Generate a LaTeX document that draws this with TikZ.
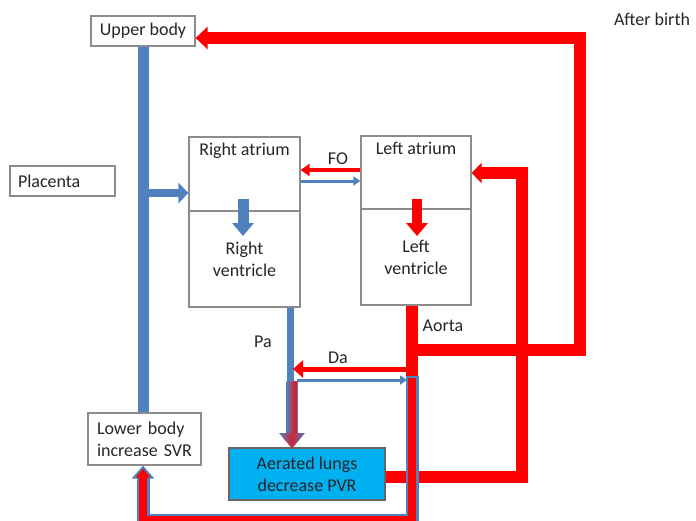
\documentclass[tikz,border=0pt]{standalone}
\usepackage{fontspec}
\setmainfont{Carlito}
\usetikzlibrary{arrows.meta}
\definecolor{oblue}{HTML}{4F81BD}
\definecolor{ored}{HTML}{FF0000}
\definecolor{lung}{HTML}{00B0F0}
\definecolor{boxgray}{HTML}{8C8C8C}
\definecolor{txt}{HTML}{262626}
\begin{document}
\begin{tikzpicture}[x=1pt,y=-1pt, font=\fontsize{18}{22}\selectfont, text=txt,
  box/.style={draw=boxgray, line width=1.2pt, fill=white, inner sep=0pt},
  lbl/.style={inner sep=0pt},
  bigred/.style={draw=ored, line width=12pt},
  bigtip/.style={-{Triangle[length=12pt,width=22pt]}},
]
\useasboundingbox (0,0) rectangle (696,520);
\clip (0,0) rectangle (696,520);

% coordinates
\coordinate (redY) at (0,38);
\coordinate (retY) at (0,350);
\coordinate (aoX) at (412,0);
\coordinate (lungY) at (0,477);
\coordinate (lungX) at (522,0);
\coordinate (laY) at (0,173);
\coordinate (topX) at (580,0);
\coordinate (aoEnd) at (412,376);
\coordinate (botR) at (412,520.5);
\coordinate (botL) at (143,520.5);
\coordinate (br) at (148,193);
\coordinate (foR) at (0,170);
\coordinate (foB) at (0,181);
\coordinate (paX) at (290,0);
\coordinate (paMid) at (290,440);
\coordinate (daL) at (293,369);
\coordinate (daR) at (406,369);
\coordinate (bl1) at (297,380);
\coordinate (bl2) at (407,380);
\coordinate (ra1) at (243,199);
\coordinate (ra2) at (243,236);
\coordinate (la1) at (417,199);
\coordinate (la2) at (417,236);

% boxes
\node[box, minimum width=104pt, minimum height=30pt] (upper) at (143,31) {Upper body};
\node[box, minimum width=105pt, minimum height=30pt, text width=89pt, align=left] (placenta) at (62.5,181) {Placenta};
\node[box, minimum width=113pt, minimum height=52pt, text width=95pt, align=left] (lower) at (144.5,439) {Lower body\\increase SVR};
\node[box, fill=lung, draw=black!60, minimum width=156pt, minimum height=52pt, align=center] (lungs) at (307,474) {Aerated lungs\\decrease PVR};
\node[box, minimum width=111pt, minimum height=74pt, label={[anchor=north, yshift=-3pt]north:Right atrium}] (RA) at (244.5,174) {};
\node[box, minimum width=111pt, minimum height=96pt, align=center] (RV) at (244.5,259) {Right\\ventricle};
\node[box, minimum width=110pt, minimum height=73pt, label={[anchor=north, yshift=-3pt]north:Left atrium}] (LA) at (416,172.5) {};
\node[box, minimum width=110pt, minimum height=96pt, align=center] (LV) at (416,257) {Left\\ventricle};

% labels
\node[lbl] (fo) at (338,159) {FO};
\node[lbl] (pa) at (263,342) {Pa};
\node[lbl] (da) at (338,358) {Da};
\node[lbl] (aorta) at (443,326) {Aorta};
\node[lbl] (after) at (652,19) {After birth};

% blue venous return
\draw[oblue, line width=11pt] (upper.south) -- (upper.south |- lower.north);
\draw[oblue, line width=8pt, -{Triangle[length=10pt,width=20pt]}] (br) -- (RA.west |- br);

% inner arrows
\draw[oblue, line width=11pt, -{Triangle[length=13pt,width=21pt]}] (ra1) -- (ra2);
\draw[ored, line width=10pt, -{Triangle[length=13pt,width=21pt]}] (la1) -- (la2);

% FO
\draw[ored, line width=4.5pt, -{Triangle[length=9pt,width=12pt]}] (LA.west |- foR) -- (RA.east |- foR);
\draw[oblue, line width=3pt, -{Triangle[length=7pt,width=9pt]}] (RA.east |- foB) -- (LA.west |- foB);

% lungs -> left atrium
\draw[bigred, -{Triangle[length=10pt,width=20pt]}] (lungs.east |- lungY) -- (lungX |- lungY) -- (lungX |- laY) -- (LA.east |- laY);

% aorta and upper loop
\draw[ored, line width=12pt] (aoX |- LV.south) -- (aoEnd);
\draw[bigred, bigtip] (406,350) -- (topX |- retY) -- (topX |- redY) -- (upper.east |- redY);

% Pa
\draw[oblue, line width=7pt] (paX |- RV.south) -- (paMid);
\shade[left color=oblue, right color=ored] (286.5,381) rectangle (297.5,434);
\draw[oblue, line width=0.8pt] (297.5,381) -- (297.5,434);
\shade[left color=oblue, right color=oblue, middle color=ored!70!oblue] (279,433) -- (305,433) -- (292,448.5) -- cycle;

% Da
\draw[ored, line width=5pt, -{Triangle[length=10pt,width=17pt]}] (daR) -- (daL);
\draw[oblue, line width=3pt, -{Triangle[length=7pt,width=9pt]}] (bl1) -- (bl2);

% mixed return to lower body
\draw[oblue, line width=13pt, -{Triangle[length=13pt,width=22pt]}] (aoEnd) -- (botR) -- (botL) -- (botL |- lower.south);
\draw[ored, line width=8.5pt, shorten >=3pt, -{Triangle[length=9pt,width=14pt]}] (412,378) -- (botR) -- (botL) -- (botL |- lower.south);
\end{tikzpicture}
\end{document}
